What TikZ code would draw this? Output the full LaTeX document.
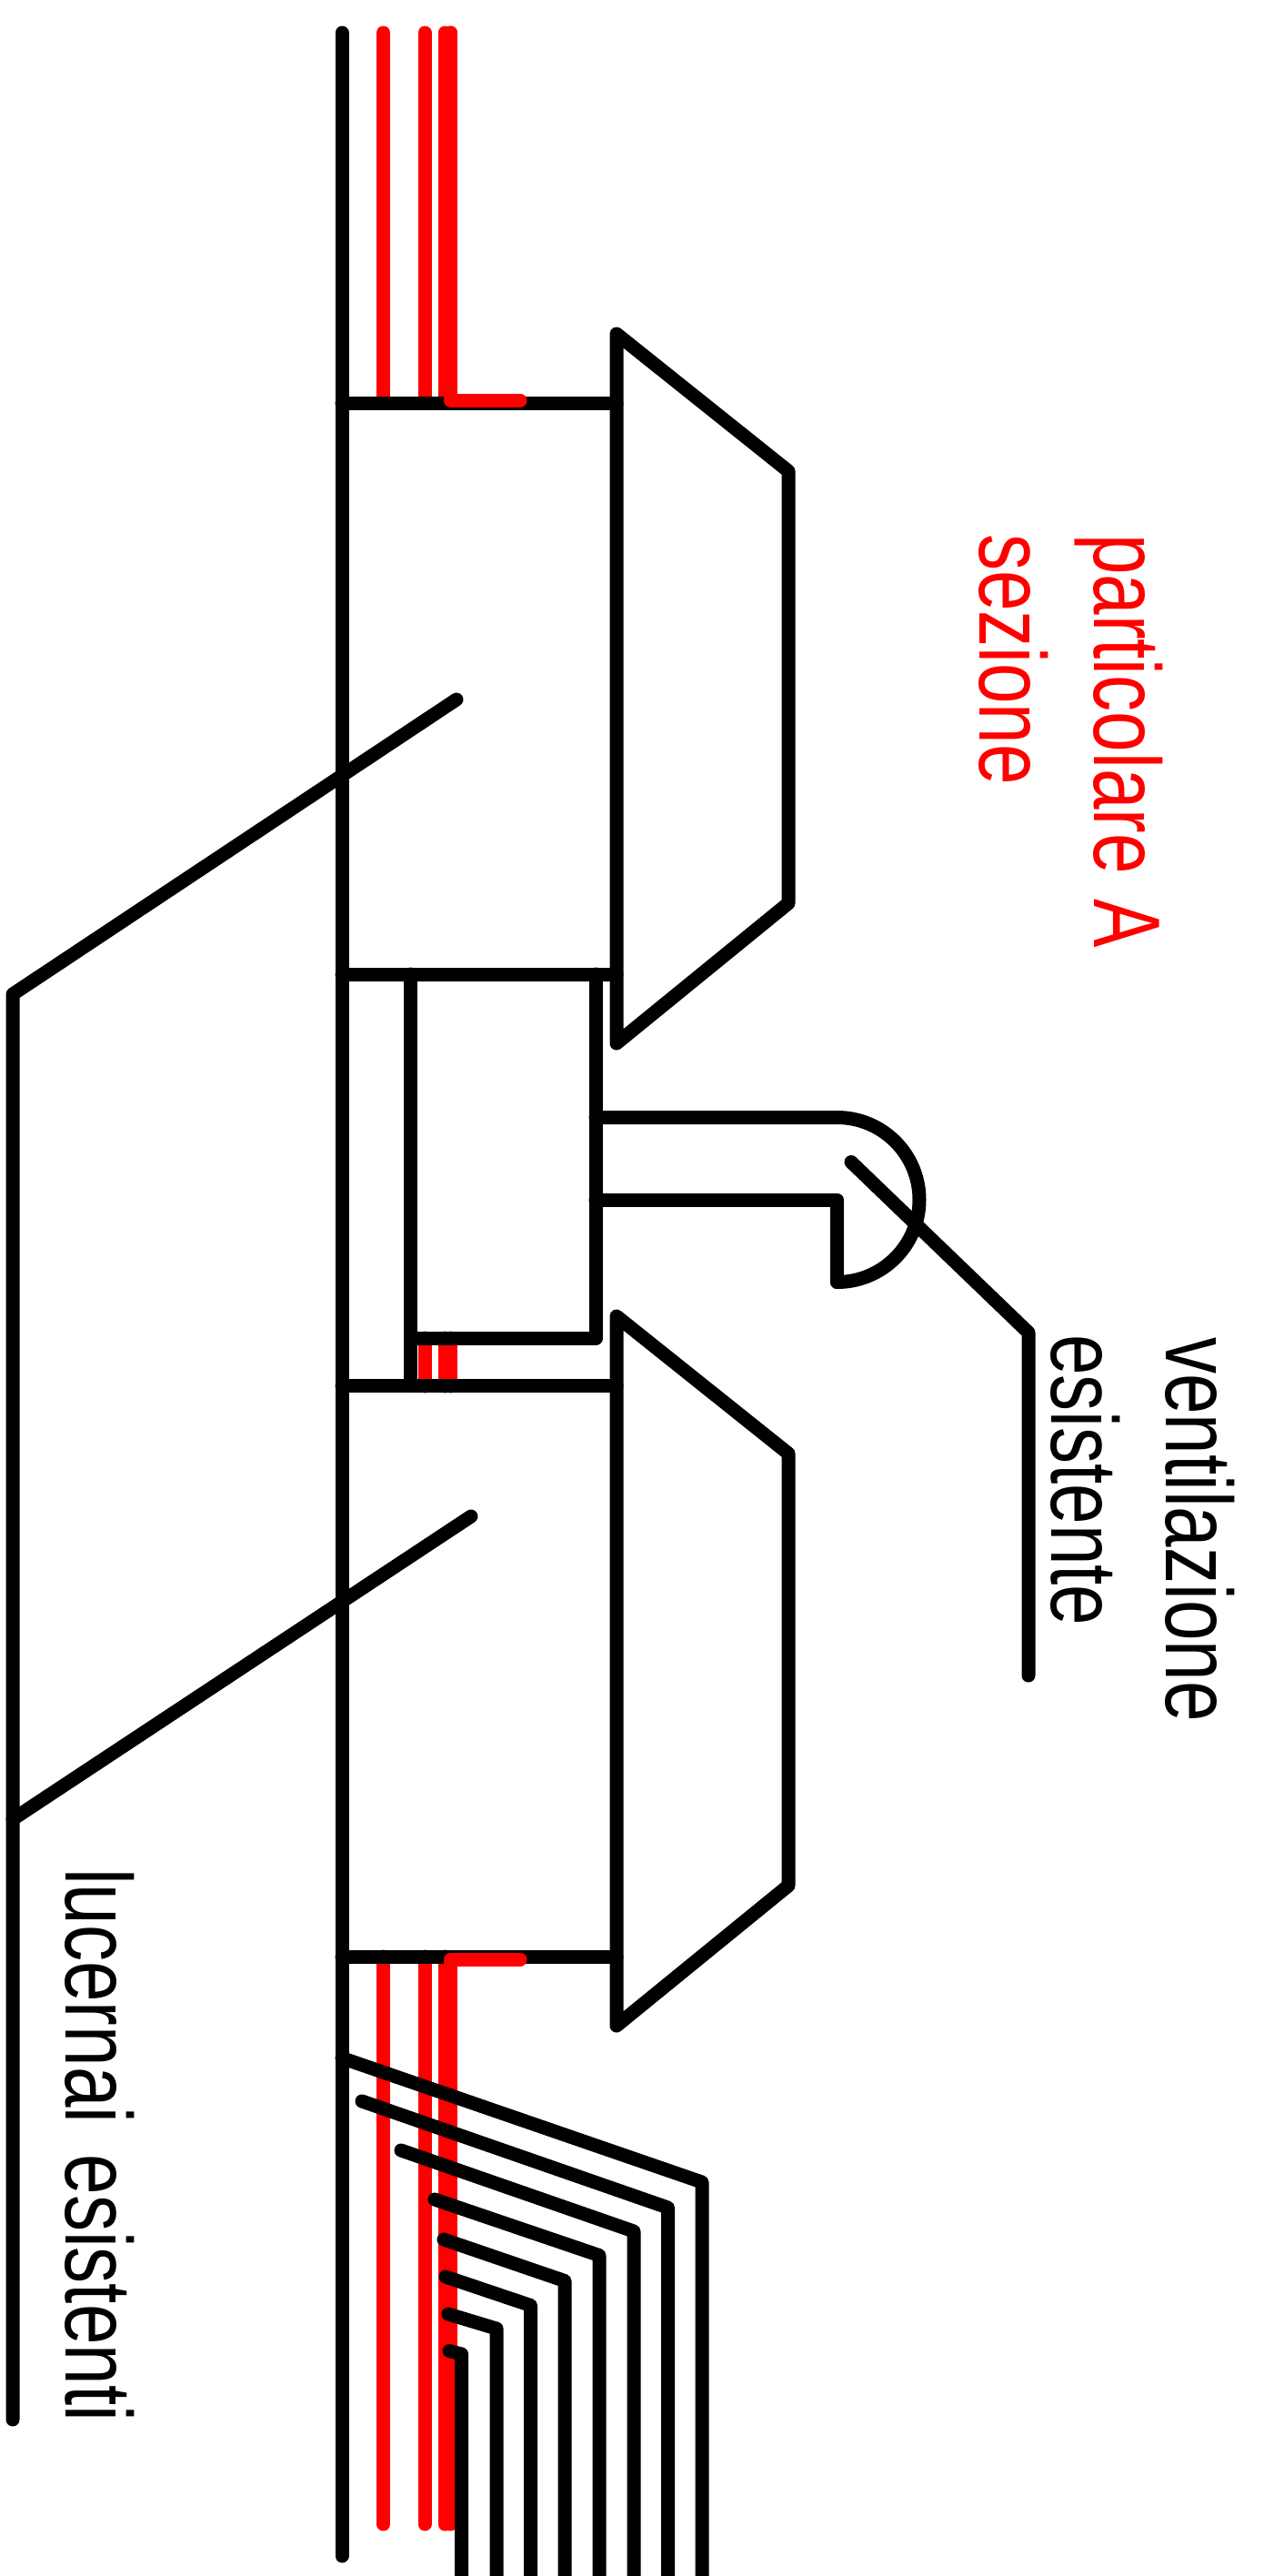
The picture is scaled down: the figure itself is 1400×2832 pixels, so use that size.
\documentclass[tikz,border=0pt]{standalone}
\usepackage{fontspec}
\setmainfont[FakeStretch=0.77]{Liberation Sans}
\tikzset{
  blk/.style={draw=black,line width=15pt,line cap=round,line join=round},
  rd/.style={draw=red,line width=15pt,line cap=round,line join=round},
  lbl/.style={rotate=-90,anchor=base west,inner sep=0pt,outer sep=0pt,font=\fontsize{104}{104}\selectfont},
}
\begin{document}
\begin{tikzpicture}[x=1pt,y=-1pt]
\useasboundingbox (0,0) rectangle (1400,2832);
\clip (0,0) rectangle (1400,2832);
% red verticals under black
\draw[rd] (421.5,36) -- (421.5,443);
\draw[rd] (467,36) -- (467,443);
\draw[rd] (489,36) -- (489,443);
\draw[rd] (495.5,36) -- (495.5,443);
\draw[rd] (467,1471) -- (467,1524);
\draw[rd] (489,1471) -- (489,1524);
\draw[rd] (495.5,1471) -- (495.5,1524);
\draw[rd] (421.5,2151) -- (421.5,2775);
\draw[rd] (467,2151) -- (467,2775);
\draw[rd] (489,2151) -- (489,2775);
% main black structure
\draw[blk] (376,36) -- (376,2810);
\draw[blk] (376,443) -- (678,443);
\draw[blk] (376,1071) -- (678,1071);
\draw[blk] (376,1523.5) -- (678,1523.5);
\draw[blk] (376,2151) -- (678,2151);
\draw[blk] (678,1147) -- (678,367) -- (867,518) -- (867,993) -- (678,1147);
\draw[blk] (678,2227) -- (678,1447) -- (867,1598) -- (867,2073) -- (678,2227);
\draw[blk] (451.5,1071) -- (451.5,1523.5);
\draw[blk] (655,1071) -- (655,1471.5) -- (451.5,1471.5);
% ventilation
\draw[blk] (655,1228.5) -- (920.5,1228.5) arc[start angle=-90,end angle=90,radius=90.5];
\draw[blk] (655,1319) -- (920.5,1319) -- (920.5,1409.5);
% red L pieces over black
\draw[rd] (495.5,36) -- (495.5,440) -- (572,440);
\draw[rd] (495.5,2775) -- (495.5,2154) -- (572,2154);
% leaders
\draw[blk] (936,1277.5) -- (1131,1465) -- (1131,1842);
\draw[blk] (502,769) -- (14,1093) -- (14,2660);
\draw[blk] (518,1667) -- (14,2000);
% skylight lines bottom
\draw[blk] (376,2262.5) -- (772,2399) -- (772,2850);
\draw[blk] (398,2310) -- (734.5,2427) -- (734.5,2850);
\draw[blk] (441,2364) -- (697,2453) -- (697,2850);
\draw[blk] (478,2418) -- (659,2479.5) -- (659,2850);
\draw[blk] (488,2462) -- (621,2507.5) -- (621,2850);
\draw[blk] (490,2503) -- (583.5,2534.5) -- (583.5,2850);
\draw[blk] (493,2544) -- (546,2560) -- (546,2850);
\draw[blk] (494,2584.5) -- (507.5,2588) -- (507.5,2850);
% labels
\node[lbl,text=red] (t1) at (1203,587) {particolare\hspace{5pt} A};
\node[lbl,text=red] (t2) at (1077,587) {sezione};
\node[lbl] (t3) at (1282,1470) {ventilazione};
\node[lbl] (t4) at (1156,1467) {esistente};
\node[lbl] (t5) at (72,2054) {lucernai\hspace{12pt} esistenti};
\end{tikzpicture}
\end{document}
